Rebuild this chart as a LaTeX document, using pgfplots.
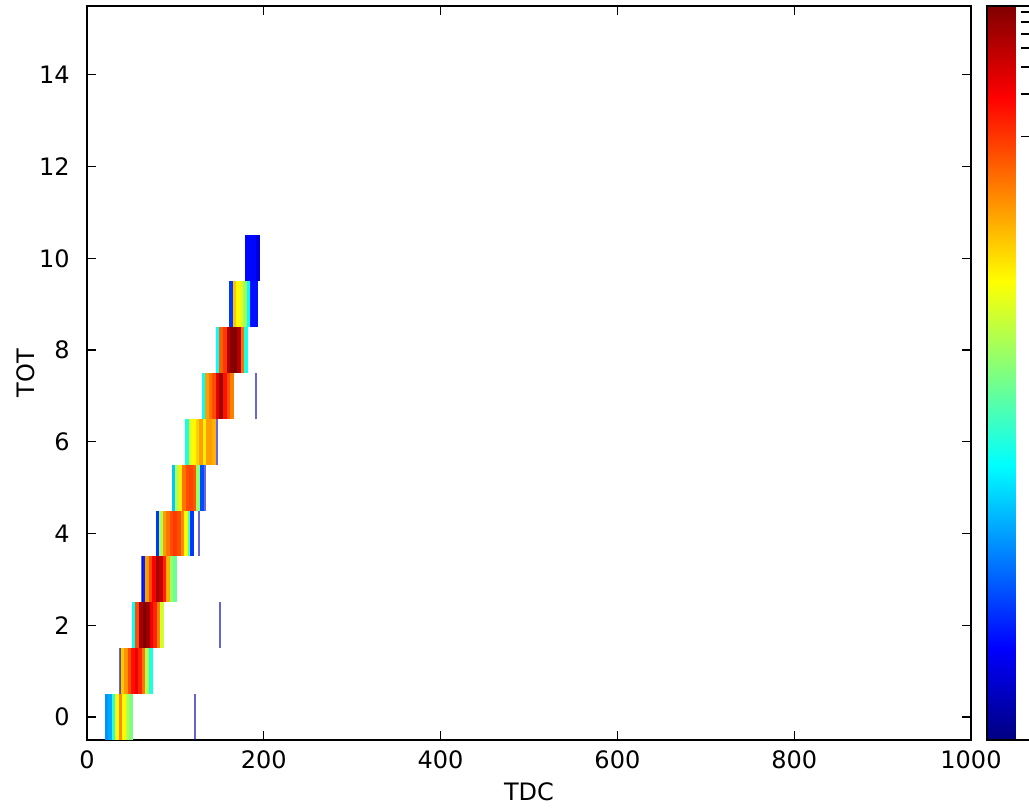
\documentclass[border=0pt]{standalone}
\usepackage{pgfplots}
\pgfplotsset{compat=1.18}
\usepackage{pgfplotstable}
\usepackage{fontspec}
\setmainfont{DejaVu Sans}

% 2D histogram cells: 4 TDC wide, 1 TOT high (axis: 442pt x 367pt)
\pgfdeclareplotmark{cell}{%
  \pgfpathrectangle{\pgfpoint{-0.95pt}{-11.47pt}}{\pgfpoint{1.9pt}{22.94pt}}%
  \pgfusepathqfill}
% single sparse bins
\pgfdeclareplotmark{thincell}{%
  \pgfpathrectangle{\pgfpoint{-0.5pt}{-11.47pt}}{\pgfpoint{1pt}{22.94pt}}%
  \pgfusepathqfill}

\pgfplotstableread{
x y c
22 0 .27
26 0 .29
30 0 .42
34 0 .62
38 0 .74
42 0 .63
46 0 .55
50 0 .50
40 1 .68
44 1 .73
48 1 .80
52 1 .86
56 1 .89
60 1 .84
64 1 .76
68 1 .55
72 1 .40
53 2 .38
57 2 .80
61 2 .96
65 2 1.0
69 2 .97
73 2 .89
77 2 .84
81 2 .75
85 2 .58
64 3 .16
68 3 .72
72 3 .80
76 3 .88
80 3 .97
84 3 .93
88 3 .84
92 3 .70
96 3 .52
100 3 .48
80 4 .18
84 4 .55
88 4 .72
92 4 .76
96 4 .80
100 4 .82
104 4 .80
108 4 .74
112 4 .62
116 4 .45
119 4 .18
98 5 .32
102 5 .55
106 5 .64
110 5 .76
114 5 .80
118 5 .81
122 5 .79
126 5 .52
130 5 .20
113 6 .40
117 6 .60
121 6 .63
125 6 .67
129 6 .72
133 6 .64
137 6 .72
141 6 .72
144 6 .70
132 7 .38
136 7 .72
140 7 .76
144 7 .80
148 7 .90
152 7 .97
156 7 .86
160 7 .80
164 7 .75
148 8 .38
152 8 .78
156 8 .82
160 8 .95
164 8 .99
168 8 1.0
172 8 .95
176 8 .77
180 8 .40
163 9 .18
167 9 .68
171 9 .63
175 9 .60
179 9 .53
183 9 .38
187 9 .14
191 9 .14
181 10 .13
185 10 .13
189 10 .13
193 10 .09
}\bandtable

\pgfplotstableread{
x y c
122 0 .05
37 1 .05
150 2 .05
62 3 .08
127 4 .06
133.5 5 .08
146.5 6 .08
191 7 .06
}\sparsetable

\begin{document}
\begin{tikzpicture}[font=\fontsize{12}{14}\selectfont]
\begin{axis}[
  at={(0,0)}, anchor=south west,
  scale only axis, width=442pt, height=367pt,
  xmin=0, xmax=1000, ymin=-0.5, ymax=15.5,
  xtick={0,200,...,1000}, ytick={0,2,...,14},
  minor tick num=0,
  tick pos=both,
  tick align=inside, major tick length=4.5pt,
  tick style={black, line width=0.6pt},
  axis line style={black, line width=1pt},
  /pgf/number format/assume math mode=true,
  /pgf/number format/1000 sep={},
  tick label style={font=\fontsize{12}{14}\selectfont, text=black},
  xticklabel style={inner sep=0pt, anchor=north, yshift=-5pt},
  yticklabel style={inner sep=0pt, anchor=east, xshift=-8.5pt},
  xlabel={TDC}, ylabel={TOT},
  every axis x label/.style={at={(axis description cs:0.5,-0.0572)}, anchor=north, inner sep=0pt},
  every axis y label/.style={at={(axis description cs:-0.0588,0.5)}, rotate=90, anchor=south, inner sep=0pt},
  colormap/jet,
  point meta min=0, point meta max=1,
  colorbar,
  colorbar style={
    at={(parent axis.north east)}, anchor=north west, xshift=-0.5pt,
    scale only axis, width=22.5pt, height=367pt,
    ytick={0.822,0.880,0.917,0.943,0.962,0.978,0.992},
    yticklabels={},
    minor tick num=0,
    ytick pos=right,
    tick align=inside, major tick length=5.5pt,
    major tick style={black, line width=0.8pt},
    axis line style={black, line width=1pt},
  },
]
\addplot[scatter, only marks, mark=cell, point meta=explicit,
  scatter/use mapped color={fill=mapped color}]
  table[x=x, y=y, meta=c] {\bandtable};
\addplot[scatter, only marks, mark=thincell, point meta=explicit,
  scatter/use mapped color={fill=mapped color, fill opacity=0.6}]
  table[x=x, y=y, meta=c] {\sparsetable};
\end{axis}
\pgfresetboundingbox
\path[use as bounding box] (-43.5pt,-34pt) rectangle (471pt,370pt);
\end{tikzpicture}
\end{document}
